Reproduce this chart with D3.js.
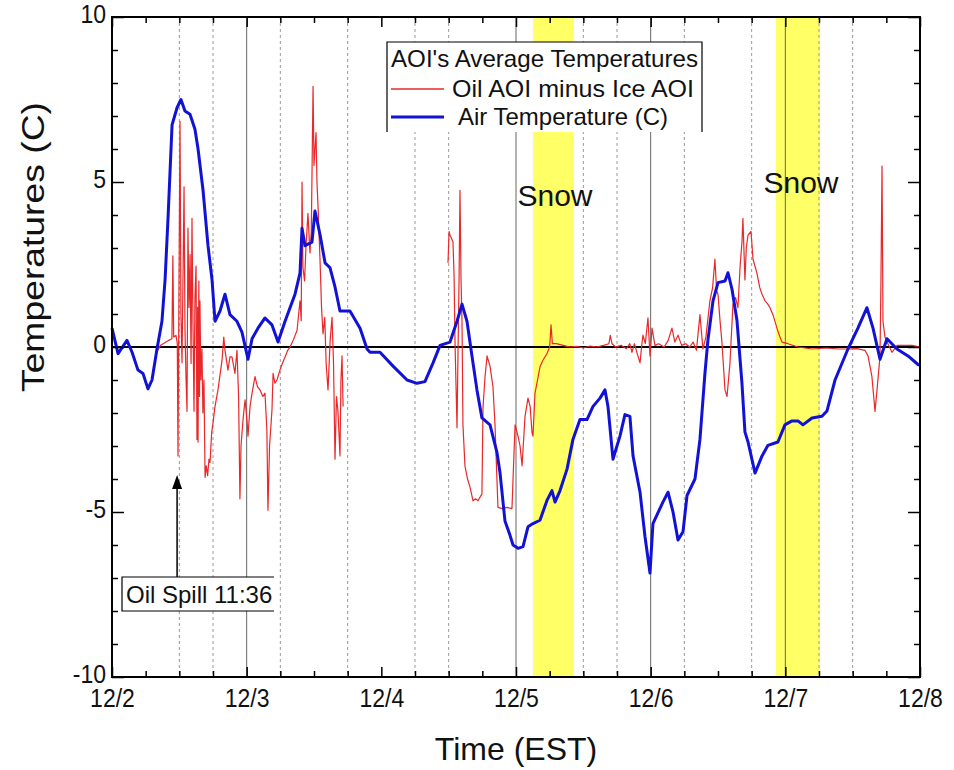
<!DOCTYPE html>
<html><head><meta charset="utf-8">
<script src="https://cdn.jsdelivr.net/npm/d3@7"></script>
<style>
html,body{margin:0;padding:0;background:#fff;}
text{font-family:"Liberation Sans",Arial,sans-serif;fill:#111;}
</style></head>
<body><svg id="c" width="954" height="770"></svg>
<script>
// ---- data (time in days after 12/2 00:00 EST, value in °C) ----
const dayLabels = ["12/2","12/3","12/4","12/5","12/6","12/7","12/8"];
const yTickValues = [-10,-5,0,5,10];
const snowBands = [[3.126,3.43],[4.93,5.257]];
const solidGrid = [1,3,4,5];
const dottedGrid = [0.5,0.75,1.25,1.75,2.25,2.5,3.5,3.75,4.25,4.75,5.25,5.5];
const spillTime = 0.4833; // 11:36 on 12/2

const airT = [0,0.045,0.111,0.149,0.193,0.230,0.267,0.297,0.334,0.371,0.394,0.416,0.446,0.483,0.512,0.542,0.579,0.616,0.639,0.676,0.713,0.743,0.765,0.802,0.839,0.876,0.928,0.965,1.010,1.040,1.084,1.136,1.188,1.233,1.285,1.359,1.396,1.411,1.433,1.485,1.507,1.545,1.582,1.619,1.656,1.693,1.767,1.842,1.894,1.916,1.990,2.087,2.191,2.265,2.324,2.384,2.436,2.510,2.562,2.599,2.636,2.673,2.710,2.747,2.807,2.859,2.881,2.918,2.955,2.978,3.015,3.052,3.089,3.126,3.178,3.230,3.267,3.290,3.327,3.379,3.423,3.475,3.527,3.572,3.624,3.661,3.683,3.720,3.772,3.809,3.846,3.869,3.921,3.958,3.995,4.017,4.091,4.129,4.166,4.203,4.240,4.270,4.329,4.366,4.403,4.425,4.463,4.500,4.552,4.574,4.604,4.641,4.678,4.700,4.723,4.775,4.827,4.871,4.945,4.997,5.049,5.094,5.131,5.198,5.272,5.309,5.369,5.465,5.539,5.606,5.651,5.703,5.755,5.829,5.911,5.985,6.0];
const airV = [0.57,-0.2,0.2,-0.16,-0.7,-0.8,-1.27,-1.0,-0.06,0.78,2.03,3.9,6.73,7.25,7.5,7.15,7.05,6.6,6.0,4.75,3.07,2.03,0.78,1.09,1.6,0.98,0.78,0.45,-0.37,0.25,0.57,0.88,0.67,0.15,0.78,1.6,2.24,3.6,3.07,3.18,4.12,3.4,2.55,2.4,1.82,1.09,1.09,0.57,-0.06,-0.16,-0.16,-0.58,-1.0,-1.1,-1.05,-0.48,0.05,0.15,0.78,1.3,0.78,-0.27,-1.3,-2.15,-2.36,-3.2,-3.8,-5.27,-5.7,-6.0,-6.1,-6.05,-5.45,-5.35,-5.25,-4.65,-4.35,-4.7,-4.35,-3.7,-2.8,-2.2,-2.2,-1.8,-1.55,-1.3,-1.8,-3.4,-2.7,-2.05,-2.1,-3.3,-4.4,-5.75,-6.85,-5.35,-4.7,-4.4,-5.0,-5.85,-5.6,-4.5,-4.0,-2.8,-0.8,0.2,1.4,1.95,2.0,2.25,1.75,0.8,-1.1,-2.57,-2.88,-3.82,-3.3,-2.98,-2.88,-2.36,-2.24,-2.24,-2.36,-2.15,-2.1,-1.94,-1.0,-0.06,0.57,1.19,0.57,-0.37,0.25,-0.06,-0.27,-0.53,-0.55];

// Oil AOI minus Ice AOI (null = no data)
const diffT = [0.342,0.36,0.38,0.40,0.42,0.445,0.452,0.458,0.475,0.485,0.490,0.495,0.505,0.512,0.52,0.527,0.535,0.542,0.55,0.557,0.564,0.572,0.58,0.587,0.594,0.601,0.609,0.616,0.624,0.631,0.636,0.639,0.645,0.650,0.653,0.660,0.668,0.675,0.683,0.691,0.70,0.71,0.72,0.728,0.740,0.750,0.765,0.787,0.817,0.830,0.839,0.861,0.876,0.891,0.913,0.928,0.940,0.950,0.958,0.973,0.988,1.002,1.010,1.025,1.040,1.062,1.080,1.099,1.120,1.136,1.150,1.158,1.170,1.188,1.196,1.210,1.225,1.247,1.265,1.285,1.305,1.322,1.345,1.374,1.396,1.405,1.411,1.418,1.430,1.440,1.455,1.470,1.480,1.493,1.500,1.515,1.522,1.530,1.545,1.556,1.567,1.580,1.590,1.604,1.620,1.634,1.645,1.656,1.667,1.678,1.693,1.700,1.708,1.716,
  1.72,
  2.495,2.503,2.510,2.520,2.532,2.540,2.547,2.562,2.569,2.577,2.584,2.592,2.599,2.606,2.621,2.640,2.658,2.681,2.700,2.718,2.747,2.755,2.770,2.785,2.807,2.829,2.844,2.866,2.900,2.933,2.970,2.993,3.015,3.030,3.045,3.067,3.089,3.105,3.119,3.126,3.141,3.160,3.178,3.200,3.230,3.250,3.260,3.270,3.300,3.350,3.400,3.450,3.500,3.550,3.600,3.650,3.690,3.700,3.713,3.740,3.780,3.820,3.845,3.861,3.880,3.900,3.921,3.935,3.943,3.960,3.980,3.995,4.010,4.032,4.060,4.100,4.130,4.158,4.180,4.203,4.230,4.260,4.290,4.315,4.340,4.366,4.388,4.410,4.440,4.460,4.477,4.490,4.500,4.515,4.529,4.552,4.567,4.589,4.611,4.630,4.648,4.665,4.678,4.685,4.700,4.710,4.723,4.745,4.760,4.789,4.810,4.827,4.849,4.870,4.886,4.908,4.938,4.960,4.975,5.020,5.094,5.200,5.300,5.400,5.465,5.530,5.591,5.614,5.643,5.666,5.681,5.703,5.710,5.718,5.725,5.740,5.755,5.792,5.830,5.866,5.940,6.000];
const diffV = [-0.1,0.05,0.1,0.15,0.2,0.25,2.76,0.3,0.35,0.1,-3.3,0.2,6.84,1.0,-0.48,2.0,4.85,0.5,-1.0,-1.95,3.6,1.2,2.8,-0.5,3.9,0.8,-1.95,1.5,2.45,-2.8,1.2,-2.88,2.0,-1.5,1.4,-1.0,-0.06,-2.0,-1.0,-3.95,-3.6,-3.9,-3.4,-3.5,-2.6,-2.3,-1.8,-1.3,-0.4,0.3,-0.1,-0.7,-0.3,-0.3,-0.8,-0.1,-1.5,-4.6,-3.0,-2.2,-1.6,-2.2,-2.7,-1.8,-1.4,-0.9,-1.2,-1.3,-1.5,-1.4,-2.5,-4.95,-3.0,-1.9,-0.8,-1.1,-1.0,-0.7,-0.5,-0.3,-0.1,0.0,0.2,0.5,1.4,0.8,5.0,2.4,2.0,3.0,4.05,2.85,3.5,7.9,5.5,6.5,5.0,4.25,2.6,1.2,0.4,0.9,-0.5,-1.3,0.2,0.9,-0.5,-3.4,-1.5,-1.95,-3.3,-1.0,-0.27,-1.8,
  null,
  2.55,3.5,3.39,3.3,3.18,2.2,0.15,-2.45,-0.27,2.0,4.75,2.0,0.78,-2.36,-3.6,-4.0,-4.24,-4.66,-4.6,-4.66,-4.45,-1.83,-0.9,-0.27,-0.58,-1.2,-2.36,-4.86,-4.9,-4.86,-4.9,-2.36,-2.7,-3.0,-3.6,-2.1,-1.55,-1.8,-2.6,-2.7,-1.4,-1.0,-0.6,-0.4,-0.2,0.0,0.67,0.1,0.1,0.05,0.0,0.02,-0.03,0.03,0.0,0.05,0.1,0.35,0.1,0.0,0.05,-0.05,0.1,-0.16,0.1,-0.2,-0.48,0.1,0.36,0.1,0.88,-0.27,0.57,0.05,0.1,0.0,0.2,0.57,0.15,0.36,0.05,0.1,0.0,0.15,-0.1,0.98,-0.06,0.3,1.4,1.8,2.66,1.7,1.6,0.8,0.15,-1.3,-1.5,-0.48,1.3,1.5,1.19,2.5,3.18,3.9,2.03,3.0,3.39,3.5,2.66,2.24,1.8,1.6,1.4,1.3,1.19,0.98,0.57,0.3,0.15,0.1,0.0,-0.06,-0.03,-0.06,-0.06,-0.05,-0.1,-0.27,-0.9,-1.95,-1.3,-0.27,2.0,5.48,0.78,0.3,0.15,-0.16,0.05,0.05,0.05,0.0];

// ---- chart ----
const L=112,R=920,T=17,B=677;
const svg=d3.select("#c");
const x=d3.scaleLinear().domain([0,6]).range([L,R]);
const y=d3.scaleLinear().domain([-10,10]).range([B,T]);
const FONT="Liberation Sans, Arial, sans-serif";
function squeeze(sel,k){sel.each(function(){const w=this.getComputedTextLength();this.setAttribute("textLength",w*k);this.setAttribute("lengthAdjust","spacingAndGlyphs");});}

// snow bands
svg.append("g").selectAll("rect").data(snowBands).join("rect")
  .attr("x",d=>x(d[0])).attr("width",d=>x(d[1])-x(d[0]))
  .attr("y",T).attr("height",B-T).attr("fill","#ffff66");

// grid
svg.append("g").selectAll("line").data(solidGrid).join("line")
  .attr("x1",d=>x(d)).attr("x2",d=>x(d)).attr("y1",T).attr("y2",B)
  .attr("stroke","#666").attr("stroke-width",1);
svg.append("g").selectAll("line").data(dottedGrid).join("line")
  .attr("x1",d=>x(d)).attr("x2",d=>x(d)).attr("y1",T).attr("y2",B)
  .attr("stroke","#999").attr("stroke-width",1).attr("stroke-dasharray","3,3");

// zero line
svg.append("line").attr("x1",L).attr("x2",R).attr("y1",y(0)).attr("y2",y(0))
  .attr("stroke","#000").attr("stroke-width",2);

// series
const diffData=diffT.map((t,i)=>({t,v:diffV[i]}));
const airData=airT.map((t,i)=>({t,v:airV[i]}));
const line=d3.line().defined(d=>d.v!==null).x(d=>x(d.t)).y(d=>y(d.v));
svg.append("path").datum(diffData).attr("d",line).attr("fill","none")
  .attr("stroke","#e8282a").attr("stroke-width",1.2).attr("stroke-linejoin","round");
svg.append("path").datum(airData).attr("d",line).attr("fill","none")
  .attr("stroke","#1212d6").attr("stroke-width",3).attr("stroke-linejoin","round");

// axes (ticks inward)
const dayTicks=d3.range(0,7);
const minorX=d3.range(0,24).map(i=>i*0.25).filter(v=>v%1!==0);
const minorY=d3.range(-10,11).filter(v=>v%5!==0);
function strip(g){g.select(".domain").remove();g.selectAll("line").attr("stroke","#000").attr("stroke-width",1.5);}
const fmtDay=d=>dayLabels[d];
svg.append("g").attr("transform",`translate(0,${B})`)
  .call(d3.axisBottom(x).tickValues(dayTicks).tickSize(-10).tickPadding(12).tickFormat(fmtDay))
  .call(strip).call(g=>{const t=g.selectAll("text").attr("font-size",25).attr("font-family",FONT).attr("fill","#111");squeeze(t,0.92);});
svg.append("g").attr("transform",`translate(0,${B})`)
  .call(d3.axisBottom(x).tickValues(minorX).tickSize(-6).tickFormat("")).call(strip);
svg.append("g").attr("transform",`translate(0,${T})`)
  .call(d3.axisTop(x).tickValues(dayTicks).tickSize(-10).tickFormat("")).call(strip);
svg.append("g").attr("transform",`translate(0,${T})`)
  .call(d3.axisTop(x).tickValues(minorX).tickSize(-6).tickFormat("")).call(strip);
svg.append("g").attr("transform",`translate(${L},0)`)
  .call(d3.axisLeft(y).tickValues(yTickValues).tickSize(-12).tickPadding(6).tickFormat(d=>String(d)))
  .call(strip).call(g=>{const t=g.selectAll("text").attr("font-size",25).attr("dy","0.22em").attr("font-family",FONT).attr("fill","#111");squeeze(t,0.92);});
svg.append("g").attr("transform",`translate(${L},0)`)
  .call(d3.axisLeft(y).tickValues(minorY).tickSize(-6).tickFormat("")).call(strip);
svg.append("g").attr("transform",`translate(${R},0)`)
  .call(d3.axisRight(y).tickValues(yTickValues).tickSize(-12).tickFormat("")).call(strip);
svg.append("g").attr("transform",`translate(${R},0)`)
  .call(d3.axisRight(y).tickValues(minorY).tickSize(-6).tickFormat("")).call(strip);

// frame
svg.append("rect").attr("x",L).attr("y",T).attr("width",R-L).attr("height",B-T)
  .attr("fill","none").attr("stroke","#000").attr("stroke-width",2);

// axis titles
svg.append("text").attr("x",516).attr("y",760).attr("text-anchor","middle")
  .attr("font-size",32).text("Time (EST)");
svg.append("text").attr("transform","translate(44,247) rotate(-90)").attr("text-anchor","middle")
  .attr("font-size",31).attr("textLength",290).attr("lengthAdjust","spacingAndGlyphs").text("Temperatures (C)");

// snow labels
svg.append("text").attr("x",555).attr("y",206).attr("text-anchor","middle").attr("font-size",30).text("Snow");
svg.append("text").attr("x",801).attr("y",193).attr("text-anchor","middle").attr("font-size",30).text("Snow");

// legend
const lg=svg.append("g");
lg.append("path").attr("d","M387,132V42H702V132").attr("fill","#fff").attr("stroke","#000").attr("stroke-width",1.2);
lg.append("text").attr("x",391).attr("y",67).attr("font-size",24).attr("textLength",307).attr("lengthAdjust","spacingAndGlyphs").text("AOI's Average Temperatures");
lg.append("line").attr("x1",391).attr("x2",444).attr("y1",89).attr("y2",89).attr("stroke","#e8282a").attr("stroke-width",1.5);
lg.append("text").attr("x",452).attr("y",97).attr("font-size",24).attr("textLength",242).attr("lengthAdjust","spacingAndGlyphs").text("Oil AOI minus Ice AOI");
lg.append("line").attr("x1",391).attr("x2",444).attr("y1",117).attr("y2",117).attr("stroke","#1212d6").attr("stroke-width",3);
lg.append("text").attr("x",458).attr("y",125).attr("font-size",24).attr("textLength",210).attr("lengthAdjust","spacingAndGlyphs").text("Air Temperature (C)");

// oil spill annotation
const ax=x(spillTime);
svg.append("line").attr("x1",ax).attr("x2",ax).attr("y1",y(-7.95)).attr("y2",y(-4.2)).attr("stroke","#000").attr("stroke-width",1.5);
svg.append("path").attr("d",`M${ax},${y(-3.88)}L${ax-5},${y(-4.3)}L${ax+5},${y(-4.3)}Z`).attr("fill","#000");
svg.append("path").attr("d","M274,577H122V611H274").attr("fill","#fff").attr("stroke","#000").attr("stroke-width",1.2);
svg.append("text").attr("x",126).attr("y",603).attr("font-size",24).text("Oil Spill 11:36");
</script></body></html>
